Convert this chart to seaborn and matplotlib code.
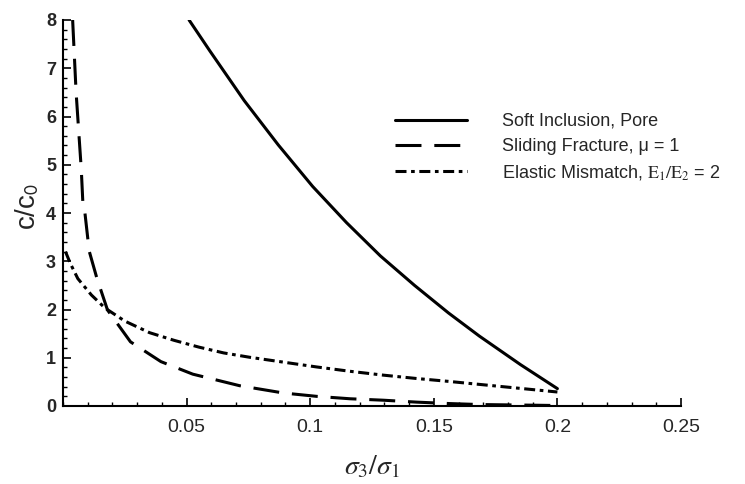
import numpy as np
import pandas as pd
import matplotlib
matplotlib.use('Agg')
import matplotlib.pyplot as plt
from matplotlib.ticker import MultipleLocator
import seaborn as sns

# values
soft_x = [0.051, 0.0594, 0.0733, 0.0871, 0.101, 0.1147, 0.1284, 0.1422, 0.1559, 0.1684, 0.185, 0.2]
soft_y = [8.0, 7.36, 6.33, 5.41, 4.55, 3.80, 3.11, 2.50, 1.93, 1.45, 0.86, 0.36]

slide_x = [0.0039, 0.0053, 0.0074, 0.0080, 0.0087, 0.0106, 0.0137, 0.0180, 0.0273, 0.0396,
           0.0525, 0.0715, 0.0891, 0.1026, 0.1161, 0.1296, 0.1431, 0.1566, 0.1687, 0.185, 0.2]
slide_y = [8.0, 6.5, 4.9, 4.25, 4.08, 3.21, 2.65, 1.99, 1.33, 0.92,
           0.66, 0.42, 0.27, 0.20, 0.15, 0.12, 0.08, 0.05, 0.03, 0.02, 0.01]

elastic_x = [0.001, 0.003, 0.006, 0.0115, 0.017, 0.025, 0.035, 0.045, 0.055, 0.065,
             0.0755, 0.089, 0.1025, 0.116, 0.1295, 0.143, 0.156, 0.168, 0.184, 0.2]
elastic_y = [3.2, 2.95, 2.64, 2.30, 2.03, 1.76, 1.52, 1.36, 1.22, 1.10,
             1.01, 0.91, 0.81, 0.72, 0.64, 0.57, 0.51, 0.45, 0.37, 0.29]

labels = ['Soft Inclusion, Pore',
          'Sliding Fracture, μ = 1',
          r'Elastic Mismatch, $\mathrm{E}_1/\mathrm{E}_2$ = 2']

x_ticks = [0.05, 0.1, 0.15, 0.2, 0.25]
x_ticklabels = ['0.05', '0.1', '0.15', '0.2', '0.25']
y_ticks = [0, 1, 2, 3, 4, 5, 6, 7, 8]

sns.set_style('ticks')
plt.rcParams['font.family'] = ['Liberation Sans', 'DejaVu Sans']
plt.rcParams['mathtext.fontset'] = 'stix'

fig = plt.figure(figsize=(7.45, 4.84), dpi=100)
ax = fig.add_axes([63 / 745, 1 - 406 / 484, 618 / 745, 386 / 484])

series = [(soft_x, soft_y, None),
          (slide_x, slide_y, (8.5, 4.2)),
          (elastic_x, elastic_y, (3.6, 1.5, 1.2, 1.5))]
for (xs, ys, dash), lab in zip(series, labels):
    df = pd.DataFrame({'x': xs, 'y': ys})
    sns.lineplot(data=df, x='x', y='y', color='black', lw=2.2, ax=ax, label=lab)
    if dash is not None:
        ax.lines[-1].set_dashes(dash)

ax.set_xlim(0, 0.25)
ax.set_ylim(0, 8)
ax.set_xticks(x_ticks)
ax.set_xticklabels(x_ticklabels)
ax.set_yticks(y_ticks)
ax.xaxis.set_minor_locator(MultipleLocator(0.01))
ax.yaxis.set_minor_locator(MultipleLocator(0.2))
ax.tick_params(axis='both', which='major', direction='in', length=6, width=1.2, color='black')
ax.tick_params(axis='both', which='minor', direction='in', length=3, width=1.0, color='black')
ax.tick_params(axis='x', labelsize=14, pad=9)
ax.tick_params(axis='y', labelsize=13, pad=5)
for t in ax.get_yticklabels():
    t.set_fontweight('bold')

sns.despine(ax=ax)
for s in ['left', 'bottom']:
    ax.spines[s].set_linewidth(1.5)
    ax.spines[s].set_color('black')

ax.set_xlabel(r'$\sigma_3/\sigma_1$', fontsize=20)
ax.xaxis.set_label_coords(0.5, -0.125)
ax.set_ylabel(r'c/c$_\mathsf{0}$', fontsize=20)
ax.yaxis.set_label_coords(-0.035, 0.517)

leg = ax.legend(loc='upper left', bbox_to_anchor=(395 / 745, 1 - 113 / 484),
                bbox_transform=fig.transFigure, frameon=False, fontsize=13,
                handlelength=4.0, handletextpad=1.9, labelspacing=0.45,
                borderpad=0, borderaxespad=0)

fig.savefig('out.png', dpi=100)
